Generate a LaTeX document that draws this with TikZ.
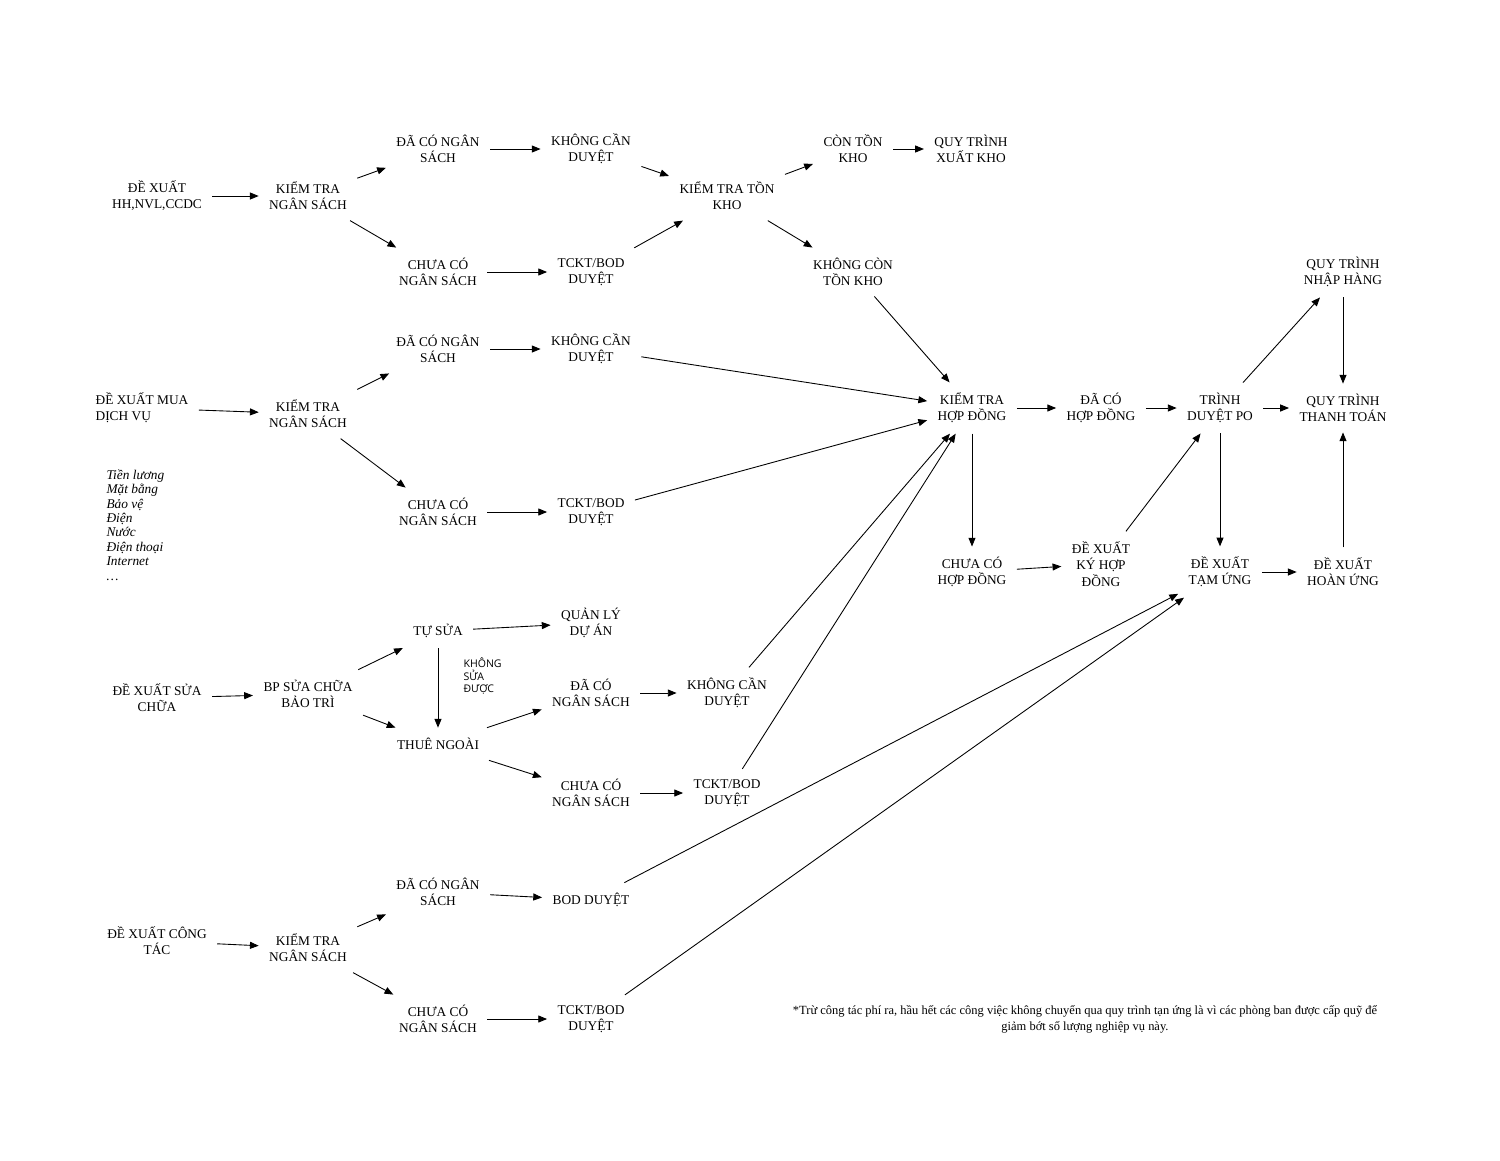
\documentclass[tikz,border=0pt]{standalone}
\usepackage{fontspec}
\setmainfont{Liberation Serif}
\newfontfamily\sansf{Open Sans}
\usetikzlibrary{arrows.meta}
\begin{document}
\begin{tikzpicture}[x=0.02cm,y=-0.02cm,
  box/.style={align=center,font=\fontsize{7.6}{9.2}\selectfont,inner sep=1pt,outer sep=5pt},
  arr/.style={-{Triangle[length=5pt,width=4pt]},line width=0.5pt}]
\useasboundingbox (0,0) rectangle (1500,1160);
\node[box] (a1) at(157,196) {ĐỀ XUẤT\\HH,NVL,CCDC};
\node[box] (a2) at(308,196) {KIỂM TRA\\NGÂN SÁCH};
\node[box] (a3) at(438,149) {ĐÃ CÓ NGÂN\\SÁCH};
\node[box] (a4) at(438,272) {CHƯA CÓ\\NGÂN SÁCH};
\node[box] (a5) at(591,149) {KHÔNG CẦN\\DUYỆT};
\node[box] (a6) at(591,272) {TCKT/BOD\\DUYỆT};
\node[box] (a7) at(727,196) {KIỂM TRA TỒN\\KHO};
\node[box] (a8) at(853,149) {CÒN TỒN\\KHO};
\node[box] (a9) at(971,149) {QUY TRÌNH\\XUẤT KHO};
\node[box] (a10) at(853,272) {KHÔNG CÒN\\TỒN KHO};
\node[box,align=left] (b1) at(142,408) {ĐỀ XUẤT MUA\\DỊCH VỤ};
\node[box] (b2) at(308,414) {KIỂM TRA\\NGÂN SÁCH};
\node[box] (b3) at(438,349) {ĐÃ CÓ NGÂN\\SÁCH};
\node[box] (b4) at(438,512) {CHƯA CÓ\\NGÂN SÁCH};
\node[box] (b5) at(591,349) {KHÔNG CẦN\\DUYỆT};
\node[box] (b6) at(591,512) {TCKT/BOD\\DUYỆT};
\node[box,align=left,anchor=north west,font=\fontsize{7.6}{8.2}\selectfont\itshape] (list) at(96,459)
  {Tiền lương\\Mặt bằng\\Bảo vệ\\Điện\\Nước\\Điện thoại\\Internet\\\dots};
\node[box] (c1) at(972,408) {KIỂM TRA\\HỢP ĐỒNG};
\node[box] (c2) at(1101,408) {ĐÃ CÓ\\HỢP ĐỒNG};
\node[box] (c3) at(1220,408) {TRÌNH\\DUYỆT PO};
\node[box] (c4) at(1343,272) {QUY TRÌNH\\NHẬP HÀNG};
\node[box] (c5) at(1343,408) {QUY TRÌNH\\THANH TOÁN};
\node[box] (c6) at(972,572) {CHƯA CÓ\\HỢP ĐỒNG};
\node[box] (c7) at(1101,564) {ĐỀ XUẤT\\KÝ HỢP\\ĐỒNG};
\node[box] (c8) at(1220,572) {ĐỀ XUẤT\\TẠM ỨNG};
\node[box] (c9) at(1343,572) {ĐỀ XUẤT\\HOÀN ỨNG};
\node[box] (d1) at(157,698) {ĐỀ XUẤT SỬA\\CHỮA};
\node[box] (d2) at(308,694) {BP SỬA CHỮA\\BẢO TRÌ};
\node[box] (d3) at(438,631) {TỰ SỬA};
\node[box] (d4) at(591,623) {QUẢN LÝ\\DỰ ÁN};
\node[box] (d5) at(438,744) {THUÊ NGOÀI};
\node[box] (d6) at(591,693) {ĐÃ CÓ\\NGÂN SÁCH};
\node[box] (d7) at(591,793) {CHƯA CÓ\\NGÂN SÁCH};
\node[box] (d8) at(727,693) {KHÔNG CẦN\\DUYỆT};
\node[box] (d9) at(727,793) {TCKT/BOD\\DUYỆT};
\node[box,align=left,anchor=west,font=\sansf\fontsize{6}{7.3}\selectfont] (d10) at(453,676) {KHÔNG\\SỬA\\ĐƯỢC};
\node[box] (e1) at(157,941) {ĐỀ XUẤT CÔNG\\TÁC};
\node[box] (e2) at(308,948) {KIỂM TRA\\NGÂN SÁCH};
\node[box] (e3) at(438,892) {ĐÃ CÓ NGÂN\\SÁCH};
\node[box] (e4) at(438,1019) {CHƯA CÓ\\NGÂN SÁCH};
\node[box] (e5) at(591,900) {BOD DUYỆT};
\node[box] (e6) at(591,1019) {TCKT/BOD\\DUYỆT};
\node[box,font=\fontsize{7.1}{9.2}\selectfont] (note) at(1085,1019)
  {*Trừ công tác phí ra, hầu hết các công việc không chuyển qua quy trình tạn ứng là vì các phòng ban được cấp quỹ để\\giảm bớt số lượng nghiệp vụ này.};
\foreach \s/\t in {a1/a2,a2/a3,a2/a4,a3/a5,a4/a6,a5/a7,a6/a7,a7/a8,a7/a10,a8/a9,a10/c1,
  b1/b2,b2/b3,b2/b4,b3/b5,b4/b6,b5/c1,b6/c1,
  c1/c2,c2/c3,c3/c4,c4/c5,c3/c5,c3/c8,c8/c9,c9/c5,c1/c6,c6/c7,c7/c3,
  d1/d2,d2/d3,d2/d5,d3/d4,d3/d5,d5/d6,d5/d7,d6/d8,d7/d9,d8/c1,d9/c1,
  e1/e2,e2/e3,e2/e4,e3/e5,e4/e6,e5/c8,e6/c8}
  \draw[arr] (\s) -- (\t);
\end{tikzpicture}
\end{document}
